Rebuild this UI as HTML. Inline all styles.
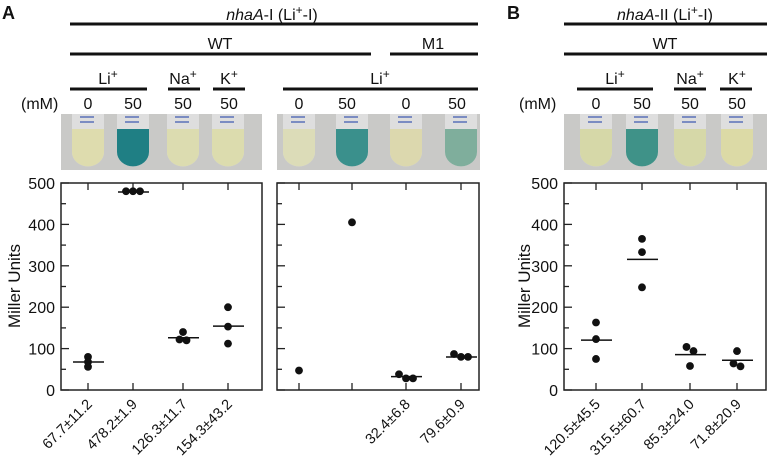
<!DOCTYPE html>
<html><head><meta charset="utf-8"><style>
html,body{margin:0;padding:0;background:#fff;}
svg{display:block;font-family:"Liberation Sans",Arial,sans-serif;}
</style></head><body>
<svg id="fig" width="767" height="470" viewBox="0 0 767 470">
<g id="hdr" fill="#111" font-size="16">
<text x="2" y="19" font-weight="bold" font-size="18">A</text>
<text x="507" y="19" font-weight="bold" font-size="18">B</text>
<text x="272" y="20" text-anchor="middle"><tspan font-style="italic">nhaA</tspan>-I (Li<tspan dy="-6" font-size="12">+</tspan><tspan dy="6">-I)</tspan></text>
<text x="665" y="20" text-anchor="middle"><tspan font-style="italic">nhaA</tspan>-II (Li<tspan dy="-6" font-size="12">+</tspan><tspan dy="6">-I)</tspan></text>
<g stroke="#111" stroke-width="3">
<line x1="70" y1="24" x2="478" y2="24"/><line x1="564" y1="24" x2="767" y2="24"/>
<line x1="70" y1="54" x2="371" y2="54"/><line x1="390" y1="54" x2="478" y2="54"/><line x1="564" y1="54" x2="767" y2="54"/>
<line x1="70" y1="89" x2="147" y2="89"/><line x1="168" y1="89" x2="200" y2="89"/><line x1="213" y1="89" x2="245" y2="89"/><line x1="283" y1="89" x2="478" y2="89"/>
<line x1="577" y1="89" x2="653" y2="89"/><line x1="674" y1="89" x2="706" y2="89"/><line x1="720" y1="89" x2="752" y2="89"/>
</g>
<text x="220" y="49" text-anchor="middle">WT</text><text x="433" y="49" text-anchor="middle">M1</text><text x="665" y="49" text-anchor="middle">WT</text>
<text x="108" y="84" text-anchor="middle">Li<tspan dy="-6" font-size="12">+</tspan></text>
<text x="183" y="84" text-anchor="middle">Na<tspan dy="-6" font-size="12">+</tspan></text>
<text x="229" y="84" text-anchor="middle">K<tspan dy="-6" font-size="12">+</tspan></text>
<text x="380" y="84" text-anchor="middle">Li<tspan dy="-6" font-size="12">+</tspan></text>
<text x="615" y="84" text-anchor="middle">Li<tspan dy="-6" font-size="12">+</tspan></text>
<text x="690" y="84" text-anchor="middle">Na<tspan dy="-6" font-size="12">+</tspan></text>
<text x="737" y="84" text-anchor="middle">K<tspan dy="-6" font-size="12">+</tspan></text>
<text x="21" y="109">(mM)</text><text x="519" y="109">(mM)</text>
<g text-anchor="middle">
<text x="88" y="109">0</text><text x="133" y="109">50</text><text x="183" y="109">50</text><text x="229" y="109">50</text>
<text x="299" y="109">0</text><text x="347" y="109">50</text><text x="406" y="109">0</text><text x="457" y="109">50</text>
<text x="596" y="109">0</text><text x="642" y="109">50</text><text x="690" y="109">50</text><text x="737" y="109">50</text>
</g>
</g>
<g id="photos"></g>
<g id="plots"></g>
</svg>
<script>
// Data
const categoriesA1 = ["Li 0","Li 50","Na 50","K 50"];
const pointsA1 = [[80,68,56],[480,480,480],[140,120,122],[200,153,112]];
const meansA1 = [67.7,478.2,126.3,154.3];
const labelsA1 = ["67.7±11.2","478.2±1.9","126.3±11.7","154.3±43.2"];
const categoriesA2 = ["WT Li 0","WT Li 50","M1 Li 0","M1 Li 50"];
const pointsA2 = [[47],[405],[38,28,28],[87,80,80]];
const meansA2 = [null,null,32.4,79.6];
const labelsA2 = ["","","32.4±6.8","79.6±0.9"];
const categoriesB = ["Li 0","Li 50","Na 50","K 50"];
const pointsB = [[163,123,75],[365,333,248],[104,94,58],[94,57,64]];
const meansB = [120.5,315.5,85.3,71.8];
const labelsB = ["120.5±45.5","315.5±60.7","85.3±24.0","71.8±20.9"];
const yTicks = [0,100,200,300,400,500];
const tubeColorsA1 = ["#dedcae","#1f7f84","#dcdcb0","#dcdcae"];
const tubeColorsA2 = ["#dcdcb8","#3a908c","#dcd8ae","#7fae9c"];
const tubeColorsB = ["#d6d8a8","#3f9288","#d6d8a8","#dcdaa6"];

const NS="http://www.w3.org/2000/svg";
function mk(tag,attrs,parent){const e=document.createElementNS(NS,tag);for(const k in attrs)e.setAttribute(k,attrs[k]);parent.appendChild(e);return e;}
const plots=document.getElementById('plots');
const photos=document.getElementById('photos');
const Y0=390,Y1=183;
function y(v){return Y0-(v/500)*(Y0-Y1);}
function jitter(pts){
  // group points closer than 11 units, spread horizontally
  const off=pts.map(()=>0);
  const groups=[];const seen=pts.map(()=>false);
  pts.forEach((v,i)=>{if(seen[i])return;const grp=[i];seen[i]=true;
    let changed=true;while(changed){changed=false;pts.forEach((w,j)=>{if(!seen[j]&&grp.some(k=>Math.abs(pts[k]-w)<11)){grp.push(j);seen[j]=true;changed=true;}});}
    groups.push(grp);});
  groups.forEach(grp=>{if(grp.length<2)return;grp.sort((a,b)=>pts[b]-pts[a]);grp.forEach((k,n)=>{off[k]=(n-(grp.length-1)/2)*7;});});
  return off;
}
function panel(name,x0,x1,xs,points,means,labels,showY,ylabX){
  const g=mk('g',{},plots);
  
  
  const fr=mk('rect',{x:x0,y:Y1,width:x1-x0,height:Y0-Y1,fill:'none',stroke:'#222','stroke-width':1.5},g);
  
  
  for(let v=0;v<=500;v+=50){
    const len=(v%100===0)?8:5;
    mk('line',{x1:x0,x2:x0+len,y1:y(v),y2:y(v),stroke:'#222','stroke-width':1.3},g);
  }
  if(showY){
    yTicks.forEach(t=>{
      const tx=mk('text',{x:x0-6,y:y(t)+6,'text-anchor':'end','font-size':16,fill:'#111'},g);
      tx.textContent=t;
      
      
    });
    const yl=mk('text',{x:ylabX,y:286,'text-anchor':'middle','font-size':17,fill:'#111',transform:`rotate(-90 ${ylabX} 286)`},g);
    yl.textContent='Miller Units';
    
    
  }
  xs.forEach((cx,i)=>{
    mk('line',{x1:cx,x2:cx,y1:Y1,y2:Y1+7,stroke:'#222','stroke-width':1.3},g);
    mk('line',{x1:cx,x2:cx,y1:Y0,y2:Y0-7,stroke:'#222','stroke-width':1.3},g);
    const pts=points[i];
    const offs=jitter(pts);
    pts.forEach((v,j)=>{
      const c=mk('circle',{cx:cx+offs[j],cy:y(v),r:3.9,fill:'#111'},g);
      
      
    });
    if(means[i]!==null){
      const m=mk('line',{x1:cx-15,x2:cx+16,y1:y(means[i]),y2:y(means[i]),stroke:'#111','stroke-width':1.5},g);
      
      
    }
    if(labels[i]){
      const t=mk('text',{x:cx+5,y:Y0+15,'text-anchor':'end','font-size':14.5,fill:'#111',transform:`rotate(-45 ${cx+5} ${Y0+15})`},g);
      t.textContent=labels[i];
      
      
    }
  });
}
function photo(name,x0,x1,xs,colors){
  const g=mk('g',{},photos);
  
  
  mk('rect',{x:x0,y:114,width:x1-x0,height:56,fill:'#c9c9c7'},g);
  xs.forEach((cx,i)=>{
    const w=32;
    mk('path',{d:`M${cx-w/2} 114 V152 a${w/2} ${w/2*0.9} 0 0 0 ${w} 0 V114 Z`,fill:'#dedede'},g);
    const t=mk('path',{d:`M${cx-w/2} 129 V152 a${w/2} ${w/2*0.9} 0 0 0 ${w} 0 V129 Z`,fill:colors[i]},g);
    
    
    mk('line',{x1:cx-8,x2:cx+6,y1:117,y2:117,stroke:'#5a70b8','stroke-width':1.5},g);
    mk('line',{x1:cx-8,x2:cx+6,y1:122,y2:122,stroke:'#5a70b8','stroke-width':1.5},g);
  });
}
const xsA1=[88,133,183,228], xsA2=[299,352,406,461], xsB=[596,642,690,737];
photo('photo-a-wt',61,262,xsA1,tubeColorsA1);
photo('photo-a-m1',277,480,xsA2,tubeColorsA2);
photo('photo-b',564,767,xsB,tubeColorsB);
panel('plot-a-wt',61,262,xsA1,pointsA1,meansA1,labelsA1,true,20);
panel('plot-a-m1',277,479,xsA2,pointsA2,meansA2,labelsA2,false,0);
panel('plot-b',564,766,xsB,pointsB,meansB,labelsB,true,530);
</script>
</body></html>
